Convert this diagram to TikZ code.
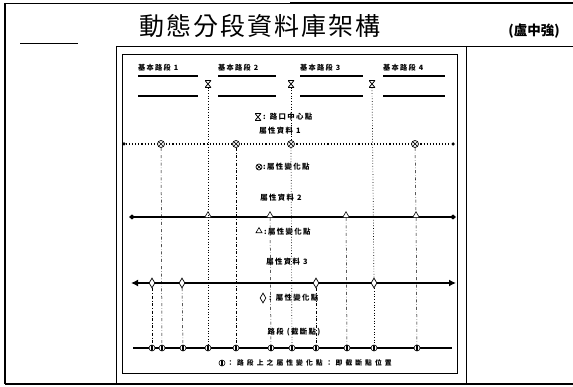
\documentclass[tikz,border=0pt]{standalone}
\usepackage{fontspec}
\usetikzlibrary{shapes.geometric,arrows.meta}
\newfontfamily\cjk{Noto Sans CJK TC}
\newfontfamily\cjksp[LetterSpace=18]{Noto Sans CJK TC}
\newfontfamily\cjkwide[LetterSpace=45]{Noto Sans CJK TC}
\newfontfamily\cjktitle[LetterSpace=8]{Noto Sans CJK TC}
\begin{document}
\begin{tikzpicture}[x=1pt,y=-1pt,
  lbl/.style={font=\cjksp\bfseries\fontsize{7.4}{8}\selectfont,inner sep=0pt},
  seglbl/.style={font=\cjksp\bfseries\fontsize{7.2}{8}\selectfont,inner sep=0pt,anchor=west},
  segline/.style={line width=1.3pt},
  vdot/.style={dotted,line width=0.7pt},
  vdd/.style={dash dot,line width=0.5pt},
  hglass/.style={inner sep=0pt,minimum width=6pt,minimum height=7pt,
    path picture={\draw[line width=0.8pt]
      (path picture bounding box.north west)--(path picture bounding box.north east)
      --(path picture bounding box.south west)--(path picture bounding box.south east)--cycle;}},
  otim/.style={circle,draw,line width=0.7pt,fill=white,inner sep=0pt,minimum size=7pt,
    path picture={\draw[line width=0.7pt]
      (path picture bounding box.north west)--(path picture bounding box.south east)
      (path picture bounding box.north east)--(path picture bounding box.south west);}},
  tri/.style={regular polygon,regular polygon sides=3,draw,line width=0.6pt,fill=white,
    inner sep=0pt,minimum size=8pt},
  dia/.style={diamond,draw,line width=0.7pt,fill=white,inner sep=0pt,
    minimum width=6pt,minimum height=10pt},
  bmark/.style={circle,draw,line width=0.6pt,fill=white,inner sep=0pt,minimum size=6pt,
    path picture={\draw[line width=1.4pt]
      (path picture bounding box.north)--(path picture bounding box.south);}},
  enddot/.style={circle,fill,inner sep=0pt,minimum size=3.5pt}
]
\useasboundingbox (0,0) rectangle (573,387);
% page frames
\draw[line width=1.2pt] (5,3) -- (5,384);
\draw[line width=0.8pt] (5,3) -- (290,3);
\draw[line width=2pt] (290,3) -- (573,3);
\draw[line width=2pt] (5,384) -- (573,384);
\draw[line width=0.8pt] (116,46) -- (573,46);
\draw[line width=1pt] (20,44) -- (78,44);
\draw[line width=0.6pt] (116,46) -- (116,384);
\draw[line width=0.6pt] (466,46) -- (466,384);
\draw[line width=0.9pt] (122,54) rectangle (457,373);
% title
\node[font=\cjktitle\fontsize{25}{28}\selectfont,inner sep=0pt] (title) at (260,26) {動態分段資料庫架構};
\node[font=\cjk\bfseries\fontsize{13.5}{15}\selectfont,inner sep=0pt] (author) at (534,31) {(盧中強)};
% basic segments
\node[seglbl] (s1) at (138,68) {基本路段 1};
\node[seglbl] (s2) at (218,68) {基本路段 2};
\node[seglbl] (s3) at (300,68) {基本路段 3};
\node[seglbl] (s4) at (383,68) {基本路段 4};
\coordinate (s1a) at (138,76); \coordinate (s1b) at (198,76);
\coordinate (s1c) at (138,96); \coordinate (s1d) at (198,96);
\coordinate (s2a) at (218,76); \coordinate (s2b) at (276,76);
\coordinate (s2c) at (218,96); \coordinate (s2d) at (276,96);
\coordinate (s3a) at (300,76); \coordinate (s3b) at (363,76);
\coordinate (s3c) at (300,96); \coordinate (s3d) at (363,96);
\coordinate (s4a) at (383,76); \coordinate (s4b) at (445,76);
\coordinate (s4c) at (383,96); \coordinate (s4d) at (445,96);
\foreach \s in {1,2,3,4}{
  \draw[segline] (s\s a) -- (s\s b);
  \draw[segline] (s\s c) -- (s\s d);
}
\node[hglass] (h1) at (208,84) {};
\node[hglass] (h2) at (291,84) {};
\node[hglass] (h3) at (372,84) {};
% legend hourglass
\node[hglass] (lh) at (258,117) {};
\node[lbl,anchor=west] (lht) at (263,117) {: 路口中心點};
% attribute 1
\node[lbl] (a1t) at (280,131) {屬性資料 1};
\node[enddot] (a1l) at (124,144) {};
\node[enddot] (a1r) at (453,144) {};
\draw[dotted,line width=1.1pt] (a1l) -- (a1r);
\node[otim] (o1) at (161,144) {};
\node[otim] (o2) at (236,144) {};
\node[otim] (o3) at (291,144) {};
\node[otim] (o4) at (415,144) {};
\node[otim,minimum size=6pt] (lo) at (259,167) {};
\node[lbl,anchor=west] (lot) at (263,167) {:屬性變化點};
% attribute 2
\node[lbl] (a2t) at (281,198) {屬性資料 2};
\coordinate (a2l) at (129,217);
\coordinate (a2r) at (456,217);
\draw[line width=1.8pt,{Diamond[length=6pt,width=5pt]}-{Diamond[length=6pt,width=5pt]}] (a2l) -- (a2r);
\node[tri,anchor=south] (t1) at (208,218) {};
\node[tri,anchor=south] (t2) at (270,218) {};
\node[tri,anchor=south] (t3) at (346,218) {};
\node[tri,anchor=south] (t4) at (416,218) {};
\node[tri,minimum size=7pt] (lt) at (259,231) {};
\node[lbl,anchor=west] (ltt) at (264,232) {:屬性變化點};
% attribute 3
\node[lbl] (a3t) at (287,262) {屬性資料 3};
\coordinate (a3l) at (131,283);
\coordinate (a3r) at (456,283);
\draw[line width=2.2pt,{Latex[length=7pt,width=7pt]}-{Latex[length=7pt,width=7pt]}] (a3l) -- (a3r);
\node[dia] (d1) at (152,283) {};
\node[dia] (d2) at (182,283) {};
\node[dia] (d3) at (316,283) {};
\node[dia] (d4) at (374,283) {};
\node[dia] (ld) at (263,298) {};
\node[lbl,anchor=west] (ldt) at (269,298) {: 屬性變化點};
% road line
\node[lbl] (rt) at (294,332) {路段 (截斷點)};
\coordinate (bl) at (133,348);
\coordinate (br) at (452,348);
\draw[line width=1.8pt] (bl) -- (br);
\foreach \n/\x in {1/152,2/162,3/183,4/208,5/236,6/271,7/292,8/316,9/347,10/374,11/417}{
  \node[bmark] (b\n) at (\x,348) {};
}
\node[bmark] (lb) at (222,363) {};
\node[font=\cjkwide\bfseries\fontsize{6.8}{8}\selectfont,inner sep=0pt,anchor=west] (lbt) at (227,363) {：路段上之屬性變化點：即截斷點位置};
% vertical guide lines
\draw[vdot] (h1) -- (b4);
\draw[vdot] (h2) -- (o3);
\draw[vdot] (o3) -- (b7);
\draw[vdot] (h3) -- (d4);
\draw[vdot] (d4) -- (b10);
\draw[vdd] (o1) -- (b2);
\draw[vdd] (o2) -- (b5);
\draw[vdd] (o4) -- (t4);
\draw[vdd] (t4) -- (b11);
\draw[vdd] (t2) -- (b6);
\draw[vdd] (t3) -- (b9);
\draw[vdd] (d1) -- (b1);
\draw[vdd] (d2) -- (b3);
\draw[vdd] (d3) -- (b8);
\end{tikzpicture}
\end{document}
